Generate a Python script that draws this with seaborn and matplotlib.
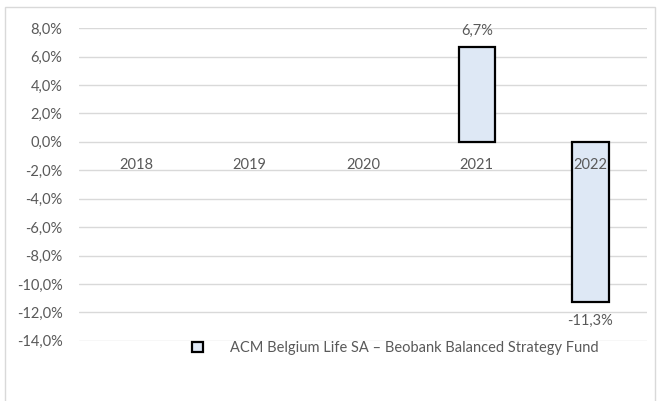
import numpy as np
import pandas as pd
import matplotlib
matplotlib.use("Agg")
import matplotlib.pyplot as plt
import matplotlib.patches as mpatches
from matplotlib.ticker import FuncFormatter
import seaborn as sns

# data
years = ["2018", "2019", "2020", "2021", "2022"]
returns = [np.nan, np.nan, np.nan, 6.7, -11.3]
fund_name = "ACM Belgium Life SA \u2013 Beobank Balanced Strategy Fund"

TEXT = "#595959"
GRID = "#D9D9D9"
FILL = "#DEE8F5"
FS = 10.5

sns.set_theme(style="white")
plt.rcParams["font.family"] = ["Lato", "DejaVu Sans"]

df = pd.DataFrame({"year": years, "ret": returns})

fig = plt.figure(figsize=(6.59, 4.01), dpi=100)
ax = fig.add_axes([0.12, 0.15, 0.862, 0.78])

sns.barplot(data=df, x="year", y="ret", order=years, width=0.32,
            color=FILL, edgecolor="black", linewidth=1.6, saturation=1, ax=ax)

ax.set_ylim(-14, 8)
yticks = np.arange(-14, 8.1, 2)
ax.set_yticks(yticks)
ax.yaxis.set_major_formatter(FuncFormatter(lambda v, p: f"{v:.1f}%".replace(".", ",")))
# gridlines behind the bars, tick labels (years) on top of them
for t in yticks:
    ax.axhline(t, color=GRID, linewidth=1, zorder=0.5)
ax.set_axisbelow(False)
ax.set_xlim(-0.5, 4.5)

for s in ["top", "right", "left"]:
    ax.spines[s].set_visible(False)
ax.spines["bottom"].set_position(("data", 0))
ax.spines["bottom"].set_color("none")
ax.tick_params(axis="both", length=0, labelsize=FS, colors=TEXT)
ax.tick_params(axis="x", pad=12)
ax.tick_params(axis="y", pad=12)
ax.set_xlabel("")
ax.set_ylabel("")

# value labels
for bar in ax.patches:
    h = bar.get_height()
    if np.isnan(h) or h == 0:
        continue
    x = bar.get_x() + bar.get_width() / 2
    txt = f"{h:.1f}%".replace(".", ",")
    off = 0.6 if h > 0 else -0.8
    ax.text(x, h + off, txt, ha="center", va="bottom" if h > 0 else "top",
            fontsize=FS, color=TEXT)

handle = mpatches.Patch(facecolor=FILL, edgecolor="black", linewidth=1.6)
fig.legend([handle], [fund_name], loc="center left", bbox_to_anchor=(0.272, 0.132),
           frameon=False, fontsize=FS, labelcolor=TEXT, handlelength=0.7,
           handleheight=0.7, handletextpad=1.9)

fig.patches.append(mpatches.Rectangle((5 / 659, -0.05), 650 / 659, 1 - 7 / 401 + 0.05,
                                      transform=fig.transFigure, fill=False,
                                      edgecolor=GRID, linewidth=1))

fig.savefig("out.png", dpi=100)
